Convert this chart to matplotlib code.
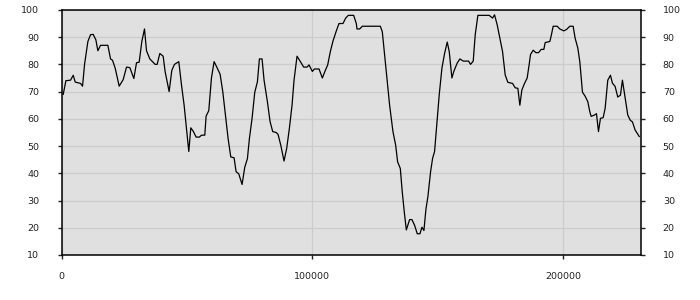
import matplotlib
matplotlib.use("Agg")
import matplotlib.pyplot as plt

# traced series
x = [650, 1714, 3576, 4638, 5435, 7563, 8360, 9158, 10486, 11550, 12611, 13675,
     14473, 15537, 18460, 19524, 20322, 21382, 22977, 24572, 25904, 27231, 28826,
     29891, 30951, 32016, 33080, 33877, 35205, 37331, 38128, 39192, 40520, 41317,
     42115, 42912, 43976, 45040, 46768, 47831, 48892, 49690, 50755, 51553, 52617,
     53677, 55009, 55806, 57134, 57665, 58729, 59793, 60854, 61918, 63246, 64311,
     65375, 66436, 67500, 68828, 69625, 70690, 72018, 73082, 74146, 74944, 76005,
     77069, 78133, 78930, 79991, 80788, 82120, 83181, 84245, 85573, 86370, 87435,
     88763, 89827, 90891, 91952, 92749, 93948, 95279, 96607, 97934, 98731, 100060,
     100860, 102720, 104050, 105110, 106180, 107240, 108300, 109630, 110690, 112290,
     113350, 114410, 116540, 117600, 117870, 118930, 120000, 127170, 127970, 128770,
     129830, 130890, 132220, 133290, 134080, 135150, 135940, 136740, 137560, 138870,
     139800, 140860, 141920, 142990, 143780, 144580, 145380, 146170, 147240, 148040,
     148830, 149900, 150700, 151760, 152820, 153880, 154680, 155740, 156540, 157870,
     158930, 160270, 162390, 163190, 164250, 165050, 166110, 170630, 171960, 172760,
     173820, 174880, 175950, 177010, 178070, 179940, 181000, 182060, 182860, 183660,
     184720, 185780, 186580, 187110, 188180, 189240, 190300, 191370, 192430, 192960,
     194820, 195350, 196150, 197750, 198810, 200400, 201470, 202790, 204120, 204920,
     205980, 206780, 207840, 208910, 209970, 210770, 211300, 212630, 213430, 214230,
     215020, 216090, 216880, 217940, 219010, 219800, 220870, 221930, 223000, 223790,
     225120, 225920, 226980, 227780, 228850, 230500]
y = [69, 74, 74.2, 76, 73.5, 73, 72, 80, 88.4, 90.9, 91, 89,
     85, 87, 87, 82, 81.5, 78.6, 72, 74.4, 79, 78.8, 74.8,
     80.6, 80.8, 88.4, 93, 85, 82, 80, 80, 84, 83, 77.3,
     73.6, 70, 77.8, 80, 81, 72.5, 65, 57.7, 48, 56.7, 55.3,
     53.3, 53.3, 54, 54, 61, 63, 75, 81, 79, 76.4, 70,
     61.4, 52.8, 46, 45.7, 40.6, 39.8, 35.9, 42.2, 45.4, 52.8, 60.2,
     69.7, 73.6, 82, 82, 74.2, 66.3, 59, 55.3, 55, 54.3, 50.4,
     44.5, 49.2, 56.5, 65, 74.2, 83, 81, 79, 79, 79.8, 77.4,
     78.3, 78.3, 75, 77.5, 79.8, 84.7, 88.6, 92.3, 95, 95,
     97, 98, 98, 95, 93, 93, 94, 94, 92, 84.7,
     74.8, 65, 55.3, 50.4, 44.2, 41.8, 33.1, 25.8, 19.2, 23,
     23, 20.9, 17.8, 17.8, 20.2, 19, 26.8, 31.5, 40.6, 45.5,
     48, 60.2, 69, 78.6, 84, 88.2, 84.7, 75, 77.5, 80.5,
     82, 81.2, 81.2, 80, 81.2, 90.9, 98, 98, 97, 98.2,
     94.5, 89.6, 84.7, 76.1, 73.4, 73, 71.4, 71.2, 65, 70.6,
     73, 75, 80, 83.6, 85.2, 84.3, 84.3, 85.5, 85.5, 88,
     88.4, 90.4, 94, 94, 93, 92.3, 92.8, 94, 94, 89.6,
     86, 81, 69.8, 68.3, 66.3, 62.6, 60.9, 61.4, 61.9, 55.3,
     60.2, 60.4, 63.8, 74.2, 76, 73.1, 71.9, 68, 68.7, 74.2,
     66.3, 61.4, 59.4, 58.9, 55.9, 53.5]

xticks = [0, 100000, 200000]
yticks = [10, 20, 30, 40, 50, 60, 70, 80, 90, 100]

fig = plt.figure(figsize=(7, 3), dpi=100)
ax = fig.add_axes([0.088, 0.15, 0.827, 0.817])
ax.set_facecolor("#e0e0e0")

ax.plot(x, y, color="black", lw=0.9)

ax.set_xlim(0, 231000)
ax.set_ylim(10, 100)
ax.set_xticks(xticks)
ax.set_xticklabels([str(t) for t in xticks])
ax.set_yticks(yticks)

ax.grid(True, color="#cccccc", lw=0.9)
ax.set_axisbelow(True)

for s in ax.spines.values():
    s.set_color("black")
    s.set_linewidth(1.1)

ax.tick_params(axis="y", left=True, right=True, labelleft=True, labelright=True,
               length=3, width=1, pad=13, labelsize=6.8, colors="#222222")
ax.tick_params(axis="x", length=3, width=1, pad=9, labelsize=6.8, colors="#222222")

fig.savefig("out.png", dpi=100)
